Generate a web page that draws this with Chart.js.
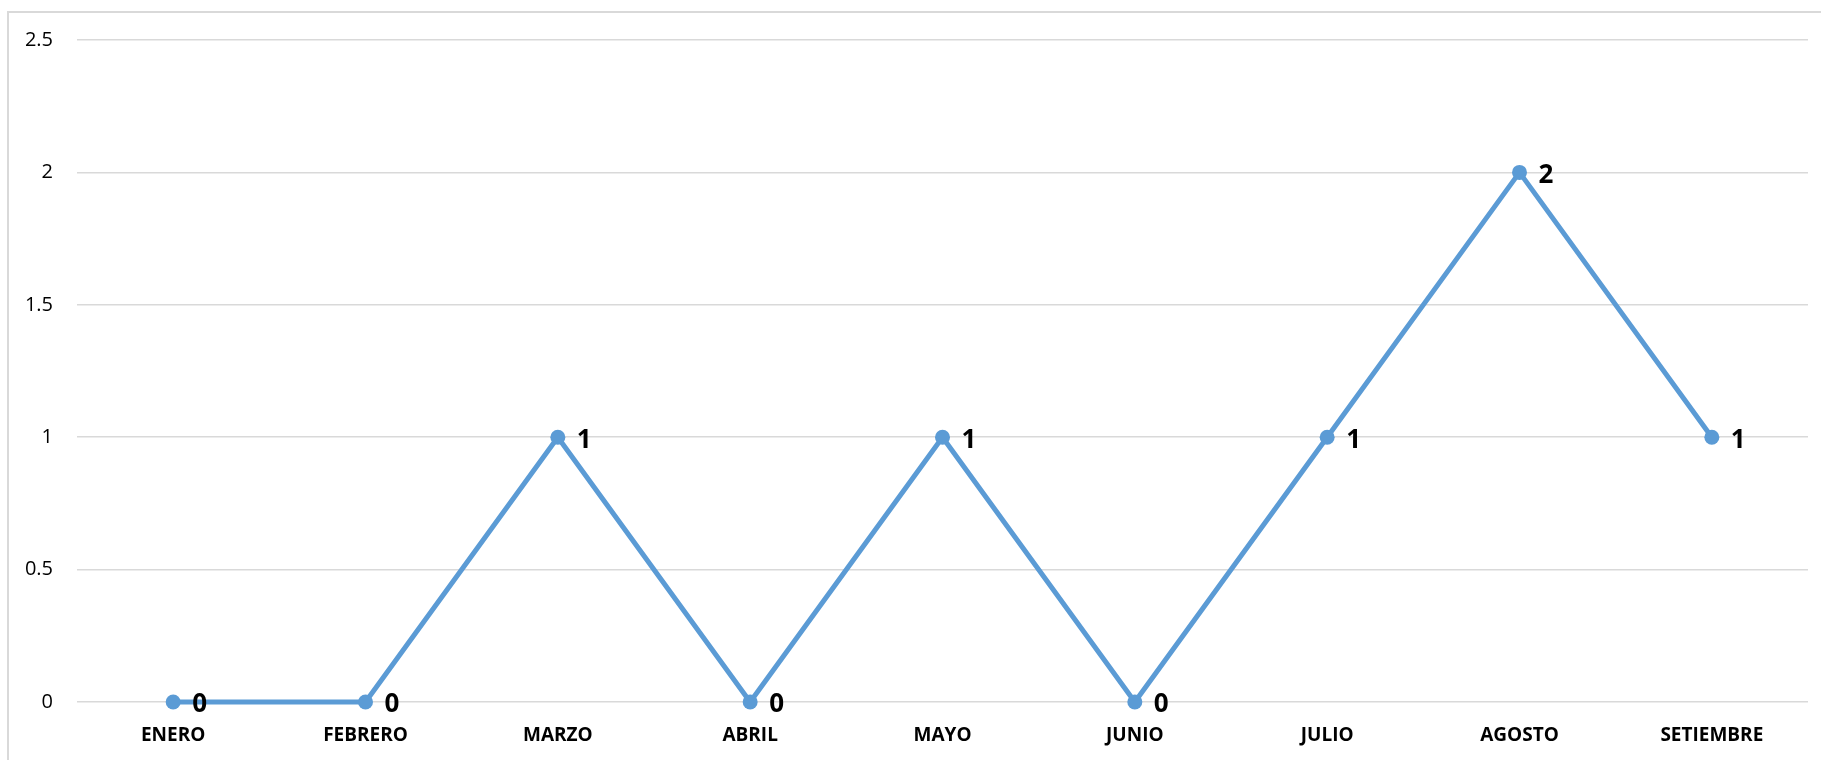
<!DOCTYPE html>
<html><head><meta charset="utf-8">
<script src="https://cdn.jsdelivr.net/npm/chart.js@4"></script>
<style>
html,body{margin:0;padding:0;background:#fff;overflow:hidden;}
#wrap{position:absolute;left:0;top:0;width:1821px;height:760px;}
#frame{position:absolute;left:7px;top:11px;width:1830px;height:760px;border-left:2px solid #d9d9d9;border-top:2px solid #d9d9d9;box-sizing:border-box;}
canvas{position:absolute;left:0;top:0;}
</style></head><body>
<div id="wrap"><div id="frame"></div><canvas id="c" width="1821" height="760"></canvas></div>
<script>
const categories = ["ENERO","FEBRERO","MARZO","ABRIL","MAYO","JUNIO","JULIO","AGOSTO","SETIEMBRE"];
const values = [0,0,1,0,1,0,1,2,1];
const yTicks = [0,0.5,1,1.5,2,2.5];

const labelPlugin = {
  id:'pointLabels',
  afterDatasetsDraw(chart){
    const ctx = chart.ctx;
    const meta = chart.getDatasetMeta(0);
    ctx.save();
    ctx.font = 'bold 26px "Open Sans"';
    ctx.fillStyle = '#000';
    ctx.textAlign = 'left';
    ctx.textBaseline = 'middle';
    meta.data.forEach((pt,i)=>{
      ctx.fillText(String(values[i]), pt.x + 19, pt.y + 3);
    });
    ctx.restore();
  }
};

new Chart(document.getElementById('c'),{
  type:'line',
  data:{labels:categories,datasets:[{data:values,borderColor:'#5B9BD5',backgroundColor:'#5B9BD5',borderWidth:5,pointRadius:7.5,pointHoverRadius:7.5,pointBackgroundColor:'#5B9BD5',pointBorderWidth:0,tension:0,clip:false}]},
  options:{
    responsive:false,animation:false,
    layout:{padding:{left:0,top:40,right:13,bottom:0}},
    plugins:{legend:{display:false},tooltip:{enabled:false}},
    scales:{
      x:{offset:true,grid:{display:false,drawTicks:false},border:{display:false},
        ticks:{color:'#000',padding:22,font:{family:'"Open Sans"',size:19,weight:'bold'},maxRotation:0,autoSkip:false},
        afterFit(s){s.height=58;}},
      y:{min:0,max:2.5,grid:{color:'#d9d9d9',lineWidth:1.5,drawTicks:false},border:{display:false},
        afterBuildTicks(s){s.ticks=yTicks.map(v=>({value:v}));},
        ticks:{color:'#000',padding:24,font:{family:'"Open Sans"',size:20},callback:v=>String(v)},
        afterFit(s){s.width=77;}}
    }
  },
  plugins:[labelPlugin]
});
</script></body></html>
